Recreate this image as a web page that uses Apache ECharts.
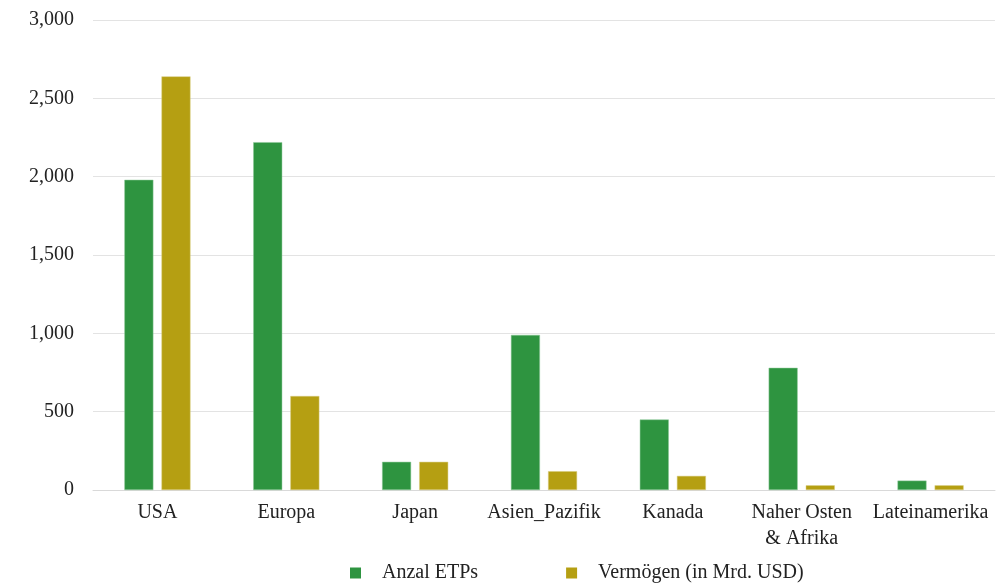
<!DOCTYPE html>
<html><head><meta charset="utf-8">
<script src="https://cdn.jsdelivr.net/npm/echarts@6/dist/echarts.min.js"></script>
<style>html,body{margin:0;padding:0;background:#fff}#c{width:1001px;height:587px}</style>
</head><body><div id="c"></div>
<script>
const categories = ['USA','Europa','Japan','Asien_Pazifik','Kanada','Naher Osten\n& Afrika','Lateinamerika'];
const anzahlETPs = [1980, 2220, 180, 990, 450, 780, 60];
const vermoegen = [2640, 600, 180, 120, 90, 30, 30];
const seriesNames = ['Anzal ETPs','Vermögen (in Mrd. USD)'];
const yTicks = {min:0, max:3000, interval:500};

const font = '"Liberation Serif", "DejaVu Serif", serif';
const chart = echarts.init(document.getElementById('c'));
chart.setOption({
  animation:false,
  textStyle:{fontFamily:font},
  grid:{left:93, right:6, top:20, bottom:97, containLabel:false},
  legend:{
    top:558, left:345, itemWidth:11, itemHeight:11, itemGap:88,
    icon:'rect',
    itemStyle:{borderWidth:0},
    textStyle:{fontFamily:font, fontSize:20, color:'#222', padding:[0,0,0,16]},
    data:seriesNames
  },
  xAxis:{
    type:'category', data:categories,
    axisLine:{lineStyle:{color:'#d9d9d9'}},
    axisTick:{show:false},
    axisLabel:{fontFamily:font, fontSize:20, color:'#222', margin:10, lineHeight:26, interval:0}
  },
  yAxis:{
    type:'value', min:yTicks.min, max:yTicks.max, interval:yTicks.interval,
    axisLine:{show:false}, axisTick:{show:false},
    splitLine:{lineStyle:{color:'#e3e3e3'}},
    axisLabel:{fontFamily:font, fontSize:20, color:'#222', margin:19,
      formatter:v=>v.toLocaleString('en-US')}
  },
  series:[
    {name:seriesNames[0], type:'bar', data:anzahlETPs, barWidth:29, barGap:'28%',
      itemStyle:{color:'#2e9440', borderColor:'#8fc89a', borderWidth:0.5}},
    {name:seriesNames[1], type:'bar', data:vermoegen, barWidth:29,
      itemStyle:{color:'#b59f12', borderColor:'#d8cc80', borderWidth:0.5}}
  ]
});
</script></body></html>
